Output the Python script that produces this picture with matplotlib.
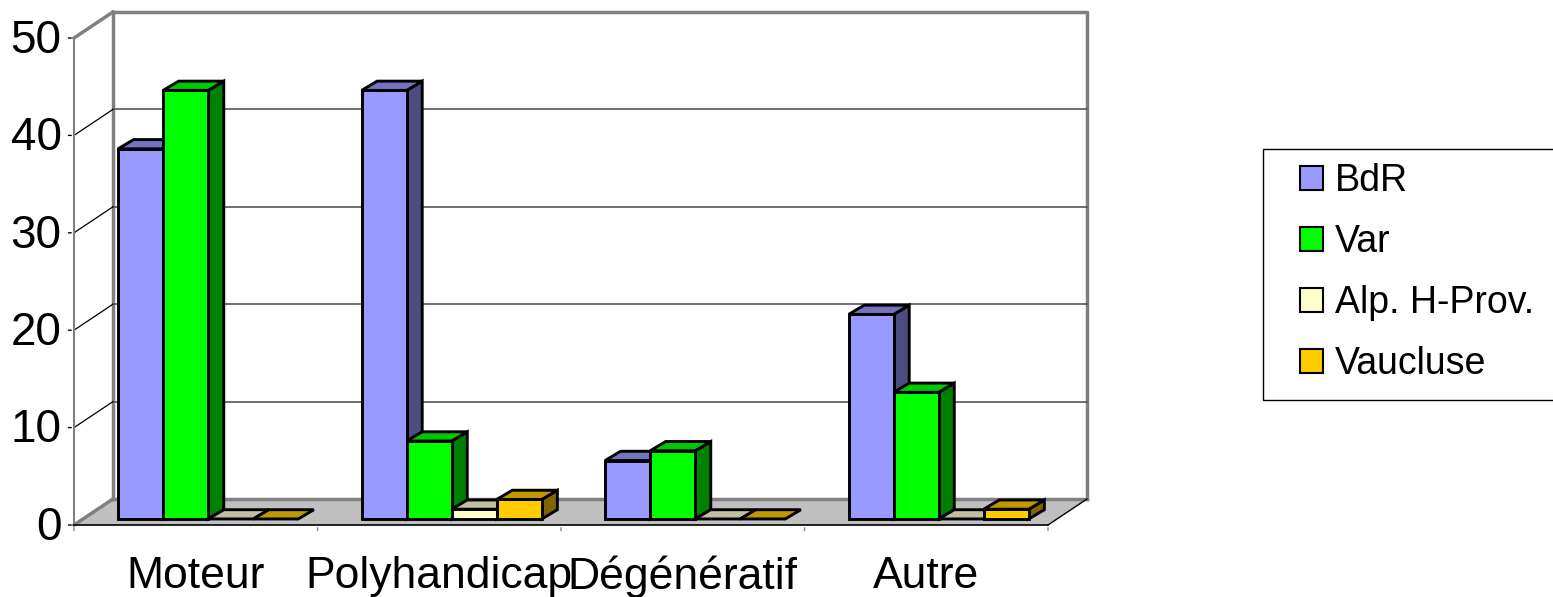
import matplotlib
matplotlib.use('Agg')
import matplotlib.pyplot as plt
from matplotlib.patches import Polygon, Rectangle, Patch

plt.rcParams['font.family'] = ['Liberation Sans', 'DejaVu Sans']

# data
categories = ['Moteur', 'Polyhandicap', 'Dégénératif', 'Autre']
series = ['BdR', 'Var', 'Alp. H-Prov.', 'Vaucluse']
bdr = [38, 44, 6, 21]
var = [44, 8, 7, 13]
alp = [0, 1, 0, 0]
vaucluse = [0, 2, 0, 1]
yticks = [0, 10, 20, 30, 40, 50]

values = [bdr, var, alp, vaucluse]
# front, top, side colours for each series
front_cols = ['#9999ff', '#00ff00', '#ffffcc', '#ffcc00']
top_cols = ['#7373c0', '#00c800', '#c0c0a0', '#c09900']
side_cols = ['#4d4d80', '#008000', '#80806a', '#806600']

# oblique 3D layout (data units: category on x, value on y)
DX, DY = 0.160, 2.67          # depth of the whole plot
BDX, BDY = 0.064, 0.95        # depth of one bar
BX0, BY0 = 0.181, 0.62        # where the bar group starts inside a category
BW = 0.185                    # bar width
n = len(categories)
ymax = yticks[-1]

fig = plt.figure(figsize=(15.53, 5.97), dpi=100)
ax = fig.add_axes([74 / 1553, 72 / 597, 974 / 1553, 487 / 597])
ax.set_xlim(0, n)
ax.set_ylim(0, ymax)
ax.axis('off')

grey = '#808080'

# walls and floor
ax.add_patch(Polygon([(0, 0), (DX, DY), (n + DX, DY), (n, 0)],
                     closed=True, fc='#c0c0c0', ec='none', zorder=1, clip_on=False))
ax.plot([DX, n + DX, n + DX], [ymax + DY, ymax + DY, DY], color=grey, lw=2.5, zorder=2, clip_on=False)
ax.plot([DX, DX], [DY, ymax + DY], color=grey, lw=2.5, zorder=2, clip_on=False)
ax.plot([0, DX], [ymax, ymax + DY], color=grey, lw=2.5, zorder=2, clip_on=False)
ax.plot([0, DX], [0, DY], color=grey, lw=2.5, zorder=2, clip_on=False)
ax.plot([DX, n + DX], [DY, DY], color=grey, lw=2.5, zorder=2, clip_on=False)
ax.plot([n, n + DX], [0, DY], color='black', lw=1, zorder=2, clip_on=False)
for v in yticks[1:-1]:
    ax.plot([DX, n + DX], [v + DY, v + DY], color='#555555', lw=1.2, zorder=2, clip_on=False)
    ax.plot([0, DX], [v, v + DY], color='black', lw=0.9, zorder=2, clip_on=False)

# axes lines and ticks
ax.plot([0, 0], [0, ymax], color=grey, lw=1.5, zorder=2, clip_on=False)
ax.plot([0, n], [0, 0], color='black', lw=1.2, zorder=2, clip_on=False)
for v in yticks:
    ax.annotate('', xy=(0, v), xytext=(-6, 0), textcoords='offset points',
                arrowprops=dict(arrowstyle='-', color='black', lw=1))
    ax.annotate(str(v), xy=(0, v), xytext=(-9, -2), textcoords='offset points',
                ha='right', va='center', fontsize=33)
for i in range(n + 1):
    ax.annotate('', xy=(i, 0), xytext=(0, -6), textcoords='offset points',
                arrowprops=dict(arrowstyle='-', color=grey, lw=1))
for i, c in enumerate(categories):
    ax.annotate(c, xy=(i + 0.5, 0), xytext=(0, -37), textcoords='offset points',
                ha='center', va='center', fontsize=32)

# bars
z = 3
lw = 2.1
for i in range(n):
    for j, s in enumerate(values):
        v = s[i]
        x0 = i + BX0 + j * BW
        y0 = BY0
        side = [(x0 + BW, y0), (x0 + BW + BDX, y0 + BDY),
                (x0 + BW + BDX, y0 + v + BDY), (x0 + BW, y0 + v)]
        top = [(x0, y0 + v), (x0 + BW, y0 + v),
               (x0 + BW + BDX, y0 + v + BDY), (x0 + BDX, y0 + v + BDY)]
        kw = dict(closed=True, ec='black', lw=lw, joinstyle='miter', clip_on=False)
        if v > 0:
            ax.add_patch(Polygon(side, fc=side_cols[j], zorder=z, **kw))
            ax.add_patch(Rectangle((x0, y0), BW, v, fc=front_cols[j], ec='black',
                                   lw=lw, joinstyle='miter', zorder=z, clip_on=False))
        ax.add_patch(Polygon(top, fc=top_cols[j], zorder=z, **kw))
        z += 1

# legend box runs past the right edge of the figure
fig.add_artist(Rectangle((1263 / 1553, 1 - 400 / 597), 300 / 1553, 251 / 597,
                         transform=fig.transFigure, fc='white', ec='black', lw=1.0))
handles = [Patch(fc=front_cols[j], ec='black', lw=1.5) for j in range(len(series))]
leg = fig.legend(handles, series, loc='upper left', bbox_to_anchor=(1300 / 1553, 1 - 163 / 597),
                 fontsize=27, frameon=False,
                 handlelength=0.6, handleheight=0.6, handletextpad=0.33,
                 labelspacing=0.67, borderpad=0, borderaxespad=0)

fig.savefig('out.png', dpi=100)
